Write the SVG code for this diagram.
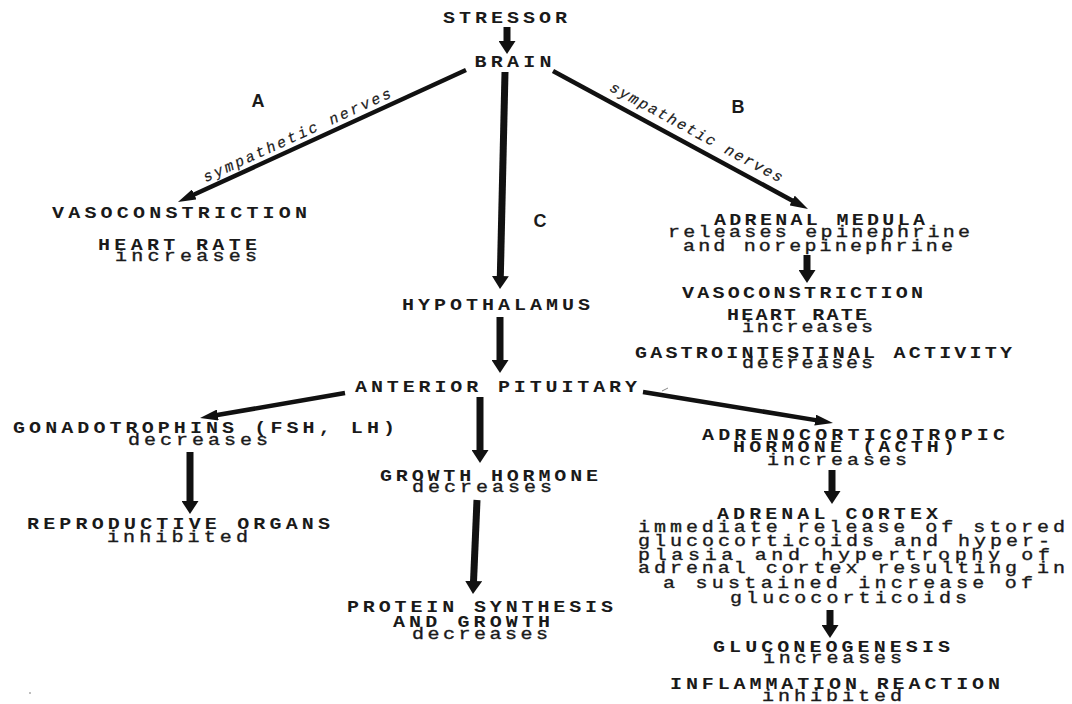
<svg xmlns="http://www.w3.org/2000/svg" width="1072" height="704" viewBox="0 0 1072 704">
<defs>
<style>
text{font-family:"Liberation Mono","Courier New",monospace;font-size:16px;fill:#1a1a1a;text-anchor:middle}
.c{font-weight:bold}
.l{font-weight:normal;stroke:#1a1a1a;stroke-width:0.35}
.lab{font-family:"Liberation Sans",Arial,sans-serif;font-weight:bold;font-size:18px}
.it{font-style:italic;font-size:15px;stroke-width:0.2}
.v{stroke:#111;stroke-width:7;fill:none}
.d{stroke:#111;stroke-width:4.5;fill:none}
</style>
<marker id="big" markerUnits="userSpaceOnUse" markerWidth="13" markerHeight="17" refX="1" refY="8.5" orient="auto"><path d="M0,0 L13,8.5 L0,17 z" fill="#111"/></marker>
<marker id="thin" markerUnits="userSpaceOnUse" markerWidth="18" markerHeight="11" refX="2" refY="5.5" orient="auto"><path d="M0,0 L18,5.5 L0,11 z" fill="#111"/></marker>
</defs>
<rect width="1072" height="704" fill="#fff"/>
<g id="connectors">
<line class="v" x1="507" y1="27" x2="507" y2="42" marker-end="url(#big)"/>
<line class="d" x1="466" y1="70" x2="192.5" y2="195.3" marker-end="url(#thin)"/>
<line class="v" x1="505" y1="72" x2="500.3" y2="277" marker-end="url(#big)"/>
<line class="d" x1="553" y1="71" x2="793.9" y2="201.4" marker-end="url(#thin)"/>
<line class="v" x1="807" y1="255" x2="807" y2="271" marker-end="url(#big)"/>
<line class="v" x1="500" y1="317" x2="500" y2="361" marker-end="url(#big)"/>
<line class="d" x1="345" y1="393" x2="215.8" y2="415.3" marker-end="url(#thin)"/>
<line class="v" x1="480" y1="397" x2="480" y2="451" marker-end="url(#big)"/>
<line class="v" x1="190" y1="452" x2="190" y2="502" marker-end="url(#big)"/>
<line class="v" x1="477" y1="500" x2="473.5" y2="582" marker-end="url(#big)"/>
<line class="d" x1="643" y1="392" x2="817.2" y2="420.4" marker-end="url(#thin)"/>
<line class="v" x1="832" y1="470" x2="832" y2="492" marker-end="url(#big)"/>
<line class="v" x1="830" y1="610" x2="830" y2="626" marker-end="url(#big)"/>
<path d="M662,391 L668,388" stroke="#888" stroke-width="1" fill="none"/>
<text class="l it" x="299" y="139.6" textLength="205" lengthAdjust="spacing" transform="rotate(-24.6 299 139.6)">sympathetic nerves</text>
<text class="l it" x="694" y="136.5" textLength="194" lengthAdjust="spacing" transform="rotate(28.4 694 136.5)">sympathetic nerves</text>
</g>
<g id="labels">
<text class="lab" x="258" y="107">A</text>
<text class="lab" x="738" y="113">B</text>
<text class="lab" x="540" y="227">C</text>
</g>
<g id="stressor" transform="scale(1.25 1)"><text class="c" x="404" y="23" textLength="99.2" lengthAdjust="spacing">STRESSOR</text></g>
<g id="brain" transform="scale(1.25 1)"><text class="c" x="410.4" y="67" textLength="61.6" lengthAdjust="spacing">BRAIN</text></g>
<g id="vaso-left" transform="scale(1.25 1)">
<text class="c" x="143.6" y="218" textLength="204" lengthAdjust="spacing">VASOCONSTRICTION</text>
<text class="c" x="142" y="250" textLength="127.2" lengthAdjust="spacing">HEART RATE</text>
<text class="l" x="148.8" y="261" textLength="113.6" lengthAdjust="spacing">increases</text>
</g>
<g id="adrenal-medula" transform="scale(1.25 1)">
<text class="c" x="655.6" y="225" textLength="168.8" lengthAdjust="spacing">ADRENAL MEDULA</text>
<text class="l" x="655.2" y="237" textLength="241.6" lengthAdjust="spacing">releases epinephrine</text>
<text class="l" x="654.4" y="251" textLength="216" lengthAdjust="spacing">and norepinephrine</text>
</g>
<g id="vaso-right" transform="scale(1.25 1)">
<text class="c" x="642" y="298" textLength="192.8" lengthAdjust="spacing">VASOCONSTRICTION</text>
<text class="c" x="637.6" y="320" textLength="112" lengthAdjust="spacing">HEART RATE</text>
<text class="l" x="646" y="332" textLength="104.8" lengthAdjust="spacing">increases</text>
<text class="c" x="658.8" y="358" textLength="301.6" lengthAdjust="spacing">GASTROINTESTINAL ACTIVITY</text>
<text class="l" x="646" y="368" textLength="104.8" lengthAdjust="spacing">decreases</text>
</g>
<g id="hypothalamus" transform="scale(1.25 1)"><text class="c" x="396.8" y="310" textLength="150.4" lengthAdjust="spacing">HYPOTHALAMUS</text></g>
<g id="anterior-pituitary" transform="scale(1.25 1)"><text class="c" x="396.8" y="392" textLength="225.6" lengthAdjust="spacing">ANTERIOR PITUITARY</text></g>
<g id="gonadotrophins" transform="scale(1.25 1)">
<text class="c" x="163.2" y="433" textLength="305.6" lengthAdjust="spacing">GONADOTROPHINS (FSH, LH)</text>
<text class="l" x="158.4" y="445" textLength="112" lengthAdjust="spacing">decreases</text>
</g>
<g id="reproductive" transform="scale(1.25 1)">
<text class="c" x="142.8" y="529" textLength="242.4" lengthAdjust="spacing">REPRODUCTIVE ORGANS</text>
<text class="l" x="142" y="542" textLength="112.8" lengthAdjust="spacing">inhibited</text>
</g>
<g id="growth-hormone" transform="scale(1.25 1)">
<text class="c" x="391.2" y="481" textLength="174.4" lengthAdjust="spacing">GROWTH HORMONE</text>
<text class="l" x="385.6" y="492" textLength="112" lengthAdjust="spacing">decreases</text>
</g>
<g id="protein" transform="scale(1.25 1)">
<text class="c" x="384" y="612" textLength="212.8" lengthAdjust="spacing">PROTEIN SYNTHESIS</text>
<text class="c" x="377.2" y="627" textLength="125.6" lengthAdjust="spacing">AND GROWTH</text>
<text class="l" x="384" y="639" textLength="108.8" lengthAdjust="spacing">decreases</text>
</g>
<g id="acth" transform="scale(1.25 1)">
<text class="c" x="682.8" y="440" textLength="242.4" lengthAdjust="spacing">ADRENOCORTICOTROPIC</text>
<text class="c" x="675.2" y="452" textLength="177.6" lengthAdjust="spacing">HORMONE (ACTH)</text>
<text class="l" x="669.6" y="465" textLength="112" lengthAdjust="spacing">increases</text>
</g>
<g id="adrenal-cortex" transform="scale(1.25 1)">
<text class="c" x="662" y="519" textLength="176.8" lengthAdjust="spacing">ADRENAL CORTEX</text>
<text class="l" x="681.2" y="532" textLength="341.6" lengthAdjust="spacing">immediate release of stored</text>
<text class="l" x="675.2" y="546" textLength="329.6" lengthAdjust="spacing">glucocorticoids and hyper-</text>
<text class="l" x="675.2" y="560" textLength="329.6" lengthAdjust="spacing">plasia and hypertrophy of</text>
<text class="l" x="681.2" y="573" textLength="341.6" lengthAdjust="spacing">adrenal cortex resulting in</text>
<text class="l" x="678.4" y="588" textLength="296" lengthAdjust="spacing">a sustained increase of</text>
<text class="l" x="678.8" y="603" textLength="189.6" lengthAdjust="spacing">glucocorticoids</text>
</g>
<g id="gluconeogenesis" transform="scale(1.25 1)">
<text class="c" x="665.2" y="652" textLength="189.6" lengthAdjust="spacing">GLUCONEOGENESIS</text>
<text class="l" x="666" y="663" textLength="111.2" lengthAdjust="spacing">increases</text>
</g>
<g id="inflammation" transform="scale(1.25 1)">
<text class="c" x="668" y="689" textLength="264" lengthAdjust="spacing">INFLAMMATION REACTION</text>
<text class="l" x="665.6" y="701" textLength="112" lengthAdjust="spacing">inhibited</text>
</g>
<circle cx="30" cy="693" r="1" fill="#aaa"/>
</svg>
